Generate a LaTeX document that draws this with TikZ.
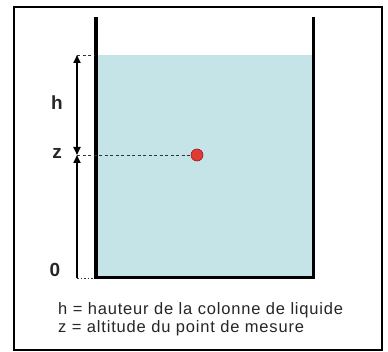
\documentclass[tikz,border=0pt]{standalone}
\usepackage{fontspec}
\setmainfont{Liberation Sans}
\usetikzlibrary{arrows.meta}
\definecolor{water}{HTML}{C5E4E8}
\definecolor{dotred}{HTML}{E23B35}
\definecolor{dotedge}{HTML}{A01818}
\tikzset{
  wall/.style={line width=3pt, line cap=butt},
  dimline/.style={line width=1.8pt},
  guide/.style={line width=0.8pt, dash pattern=on 3pt off 2.5pt, black!80},
  biglabel/.style={font=\fontsize{19}{19}\selectfont\bfseries, text=black!85, inner sep=0pt},
  caption/.style={font=\fontsize{16.5}{19}\selectfont\addfontfeatures{LetterSpace=5}, text=black!85, inner sep=0pt, anchor=base west},
  tip/.style={-{Triangle[width=7pt,length=8pt]}}
}
\begin{document}
\begin{tikzpicture}[x=1pt,y=-1pt]
\useasboundingbox (0,0) rectangle (388,352);
\fill[white] (0,0) rectangle (388,352);
% frame
\draw[line width=2.5pt] (14,7) rectangle (382,350);
% water
\fill[water] (96,55) rectangle (313,278);
% beaker
\coordinate (lt) at (96,17);
\coordinate (lb) at (96,279.5);
\coordinate (rt) at (313,17);
\coordinate (rb) at (313,279.5);
\draw[line width=4pt] (lt) -- (lb);
\draw[wall] (rt) -- (rb);
\draw[wall] (94,278) -- (314.5,278);
% dimension coordinates
\coordinate (atop) at (77,55);
\coordinate (amid) at (77,155);
\coordinate (abot) at (77,278);
\coordinate (wtop) at (94,55);
\coordinate (wbot) at (94,278);
\node[circle, fill=dotred, draw=dotedge, line width=0.6pt, minimum size=12pt, inner sep=0pt] (pt) at (197,155) {};
% guides
\draw[guide] (atop) -- (wtop);
\draw[guide] (amid) -- (pt.west);
\draw[line width=0.8pt, dash pattern=on 1.5pt off 2pt, black!80] (abot) -- (wbot);
% arrows
\draw[dimline, {Triangle[width=7pt,length=8pt]}-{Triangle[width=7pt,length=8pt]}] (amid) -- (atop);
\draw[dimline, tip] (abot) -- (amid);
% labels
\node[biglabel] (h) at (57,103) {h};
\node[biglabel] (z) at (57,153) {z};
\node[biglabel] (zero) at (55,270) {0};
\node[caption] (c1) at (58,315) {h = hauteur de la colonne de liquide};
\node[caption] (c2) at (58,333) {z = altitude du point de mesure};
\end{tikzpicture}
\end{document}
